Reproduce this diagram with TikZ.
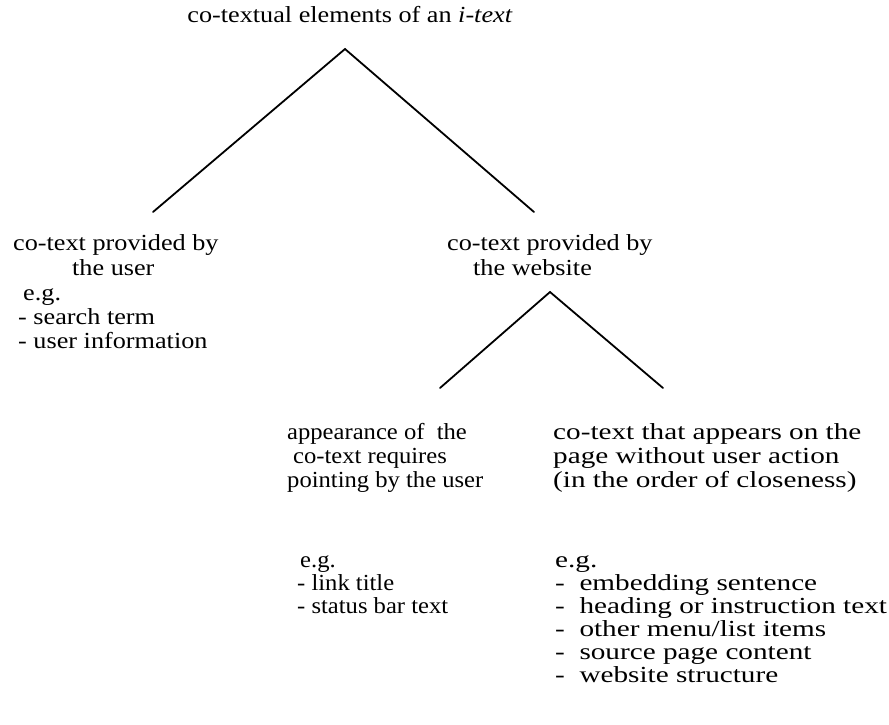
\documentclass[tikz,border=0pt]{standalone}
\usepackage{fontspec}
\setmainfont{Liberation Serif}
% slightly widened serif faces for the three text columns
\newfontfamily\wideA{Liberation Serif}[FakeStretch=1.14]
\newfontfamily\wideM{Liberation Serif}[FakeStretch=1.07]
\newfontfamily\wideR{Liberation Serif}[FakeStretch=1.27]
\begin{document}
\begin{tikzpicture}[x=1pt,y=-1pt,
  txt/.style={anchor=base west, inner sep=0pt, font=\fontsize{23}{24}\wideA},
  midtxt/.style={txt, font=\fontsize{23}{24}\wideM},
  righttxt/.style={txt, font=\fontsize{23}{24}\wideR},
  branch/.style={line width=1.8pt, line cap=round}]
\useasboundingbox (0,0) rectangle (889,724);

% root
\node[txt, anchor=base] (title) at (350,22) {co-textual elements of an \textit{i-text}};

% first level
\node[txt] (user1) at (13,250) {co-text provided by};
\node[txt] (user2) at (72,275) {the user};
\node[txt] (userEg) at (23,300) {e.g.};
\node[txt] (userA) at (18,324) {- search term};
\node[txt] (userB) at (18,348) {- user information};

\node[txt] (web1) at (447,250) {co-text provided by};
\node[txt] (web2) at (473,275) {the website};

% second level
\node[midtxt] (point1) at (287,439) {appearance of\ \ the};
\node[midtxt] (point2) at (293,463) {co-text requires};
\node[midtxt] (point3) at (287,487) {pointing by the user};
\node[midtxt] (pointEg) at (300,567) {e.g.};
\node[midtxt] (pointA) at (297,590) {- link title};
\node[midtxt] (pointB) at (297,613) {- status bar text};

\node[righttxt] (page1) at (553,439) {co-text that appears on the};
\node[righttxt] (page2) at (553,463) {page without user action};
\node[righttxt] (page3) at (553,487) {(in the order of closeness)};
\node[righttxt] (pageEg) at (555,567) {e.g.};
\node[righttxt] (pageA) at (555,590) {-\ \ embedding sentence};
\node[righttxt] (pageB) at (555,613) {-\ \ heading or instruction text};
\node[righttxt] (pageC) at (555,636) {-\ \ other menu/list items};
\node[righttxt] (pageD) at (555,659) {-\ \ source page content};
\node[righttxt] (pageE) at (555,682) {-\ \ website structure};

% branching points and branch ends
\coordinate (rootFork) at (345,49);
\coordinate (userTop) at (153,212);
\coordinate (webTop) at (534,212);
\coordinate (webFork) at (550,292);
\coordinate (pointTop) at (440,388);
\coordinate (pageTop) at (663,388);

\draw[branch] (userTop) -- (rootFork) -- (webTop);
\draw[branch] (pointTop) -- (webFork) -- (pageTop);
\end{tikzpicture}
\end{document}
